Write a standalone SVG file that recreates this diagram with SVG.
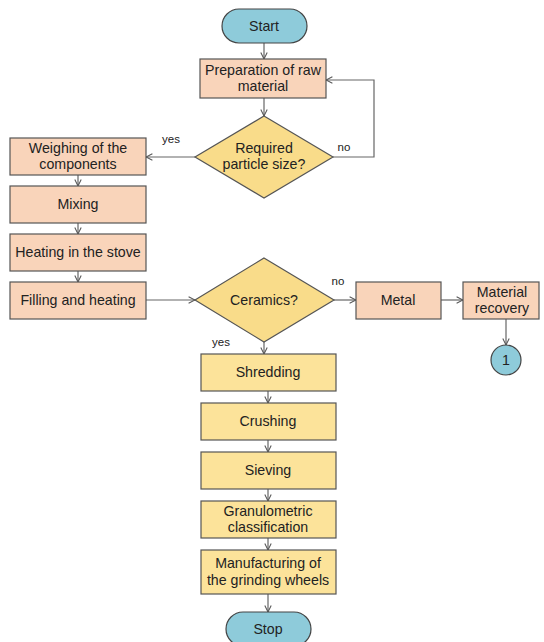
<svg xmlns="http://www.w3.org/2000/svg" width="544" height="642" viewBox="0 0 544 642">
<defs>
<marker id="arr" viewBox="0 0 10 10" refX="9" refY="5" markerWidth="8" markerHeight="8" orient="auto" markerUnits="userSpaceOnUse">
<path d="M1,1 L9,5 L1,9" fill="none" stroke="#555" stroke-width="1.3"/>
</marker>
</defs>
<style>
text{font-family:"Liberation Sans",Arial,sans-serif;font-size:14.2px;fill:#222;text-anchor:middle}
.lbl{font-size:11.5px}
.term{fill:#8ECBDA;stroke:#444;stroke-width:1.2}
.pink{fill:#F9D4BA;stroke:#555;stroke-width:1.2}
.yel{fill:#FCE39A;stroke:#555;stroke-width:1.2}
.dia{fill:#F9DC8A;stroke:#555;stroke-width:1.2}
.c{fill:none;stroke:#666;stroke-width:1.2;marker-end:url(#arr)}
</style>
<rect width="544" height="642" fill="#fff"/>
<g id="connectors">
<path class="c" d="M264,43 V59"/>
<path class="c" d="M264,98 V116"/>
<path class="c" d="M333,157 H374 V80 H326"/>
<path class="c" d="M195,157 H146"/>
<path class="c" d="M78,175 V186"/>
<path class="c" d="M78,223 V234"/>
<path class="c" d="M78,271 V282"/>
<path class="c" d="M146,300 H195"/>
<path class="c" d="M334,300 H356"/>
<path class="c" d="M441,300 H463"/>
<path class="c" d="M506,319 V345"/>
<path class="c" d="M264,342 V354"/>
<path class="c" d="M268,391 V403"/>
<path class="c" d="M268,440 V452"/>
<path class="c" d="M268,489 V501"/>
<path class="c" d="M268,538 V550"/>
<path class="c" d="M268,594 V612"/>
<text class="lbl" x="344" y="151">no</text>
<text class="lbl" x="171" y="143">yes</text>
<text class="lbl" x="338" y="285">no</text>
<text class="lbl" x="221" y="346">yes</text>
</g>
<g id="start"><rect class="term" x="222" y="9" width="85" height="34" rx="17"/><text x="264" y="31">Start</text></g>
<g id="prep"><rect class="pink" x="200" y="59" width="126" height="39"/><text x="263" y="75">Preparation of raw</text><text x="263" y="91">material</text></g>
<g id="particle"><polygon class="dia" points="264,116 333,157 264,198 195,157"/><text x="264" y="153">Required</text><text x="264" y="169">particle size?</text></g>
<g id="weighing"><rect class="pink" x="10" y="138" width="136" height="37"/><text x="78" y="153">Weighing of the</text><text x="78" y="169">components</text></g>
<g id="mixing"><rect class="pink" x="10" y="186" width="136" height="37"/><text x="78" y="209">Mixing</text></g>
<g id="heating"><rect class="pink" x="10" y="234" width="136" height="37"/><text x="78" y="257">Heating in the stove</text></g>
<g id="filling"><rect class="pink" x="10" y="282" width="136" height="37"/><text x="78" y="305">Filling and heating</text></g>
<g id="ceramics"><polygon class="dia" points="264,258 334,300 264,342 195,300"/><text x="264" y="305">Ceramics?</text></g>
<g id="metal"><rect class="pink" x="356" y="282" width="85" height="37"/><text x="398" y="305">Metal</text></g>
<g id="recovery"><rect class="pink" x="463" y="282" width="76" height="37"/><text x="502" y="297">Material</text><text x="502" y="313">recovery</text></g>
<g id="conn1"><circle class="term" cx="506" cy="360" r="15"/><text x="506" y="365">1</text></g>
<g id="shredding"><rect class="yel" x="201" y="354" width="135" height="37"/><text x="268" y="377">Shredding</text></g>
<g id="crushing"><rect class="yel" x="201" y="403" width="135" height="37"/><text x="268" y="426">Crushing</text></g>
<g id="sieving"><rect class="yel" x="201" y="452" width="135" height="37"/><text x="268" y="475">Sieving</text></g>
<g id="granulometric"><rect class="yel" x="201" y="501" width="135" height="37"/><text x="268" y="516">Granulometric</text><text x="268" y="532">classification</text></g>
<g id="manufacturing"><rect class="yel" x="201" y="550" width="135" height="44"/><text x="268" y="568">Manufacturing of</text><text x="268" y="585">the grinding wheels</text></g>
<g id="stop"><rect class="term" x="226" y="612" width="85" height="34" rx="17"/><text x="268" y="634">Stop</text></g>
</svg>
